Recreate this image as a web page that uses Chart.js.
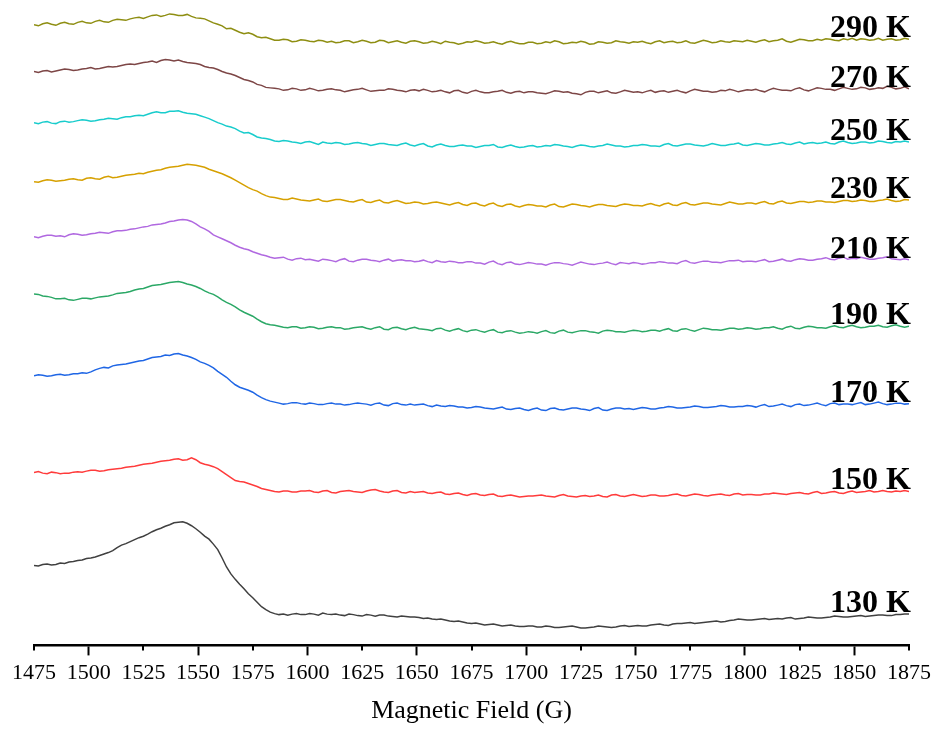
<!DOCTYPE html>
<html>
<head>
<meta charset="utf-8">
<title>EPR spectra</title>
<script src="https://cdn.jsdelivr.net/npm/chart.js@4.4.1/dist/chart.umd.min.js"></script>
<style>
  html, body { margin: 0; padding: 0; background: #fff; }
  #wrap { width: 937px; height: 740px; }
</style>
</head>
<body>
<div id="wrap"><canvas id="eprChart"></canvas></div>
<script>
// field sweep 1475-1875 G, one reading every 2 G
const fields = Array.from({ length: 201 }, (_, i) => 1475 + 2 * i);

const temps = ['130 K', '150 K', '170 K', '190 K', '210 K', '230 K', '250 K', '270 K', '290 K'];
const colors = ['#404040', '#ff3b3b', '#1f66e5', '#2ba866', '#b068e0', '#d6a000', '#18cccc', '#7d4646', '#8e8e12'];

// stacked intensity (a.u.), each trace already offset
const k130 = [80.5, 80, 81.5, 82, 81, 81.5, 83, 82.5, 84, 84.5, 85.5, 86, 87.5, 88, 89, 90.5, 92, 93.5, 95.5, 98.5,
  101, 102.5, 104.5, 106.5, 108.5, 110, 112, 114.5, 116.5, 118, 120, 121.5, 123.5, 124, 124.5, 123, 120.5, 117.5, 114, 110,
  107, 102, 96.5, 88, 79, 72, 66.5, 61.5, 57, 52, 48, 43.5, 39, 36, 33.5, 32, 31, 31.5, 30.5, 31.5,
  32, 31, 31, 32,
  31.5, 30.5, 32.5, 31.5, 31, 31.5, 30.5, 30, 31.5, 31, 30, 29.5, 31, 30.5, 29.5, 30.5, 30.5, 29.5, 29, 28.5, 29.5, 29, 28.5, 28.5,
  28, 27, 27.5, 26.5, 26, 26.5, 25.5, 24.5, 24, 24.5, 23.5, 22.5, 22, 22.5, 21.5, 20.5, 21, 21.5, 20.5, 19.5, 20, 20.5, 19.5, 19, 19, 19.5,
  19.5, 18.5, 18.5, 19.5, 19, 18, 18, 18.5, 19, 19.5, 18.5, 17.5, 17.5, 18, 18.5, 19.5, 19, 18.5, 18, 18.5, 19.5, 20, 19, 19.5,
  20, 19.5, 19.5, 20.5, 21, 21.5, 20.5, 20, 21.5, 22, 22, 22.5, 23, 22, 22.5, 23, 23.5, 24, 24.5, 23.5, 24, 25, 25.5, 26.5, 26, 25.5,
  25.5, 26, 26.5, 27, 26, 26.5, 27, 26.5, 27.5, 28, 26.5, 27, 27.5, 28.5, 28, 27.5, 27.5, 28, 28.5, 29.5, 29, 28.5, 28.5, 29,
  29.5, 30, 29, 29.5, 30, 30.5, 30.5, 30, 30, 31, 31, 31.5, 31.5];

const k150 = [174, 175, 173.5, 173, 174.5, 174, 173, 173.5, 173.5, 174.5, 175, 174.5, 175.5, 176.5, 176.5, 175.5, 176, 177, 177.5, 178,
  178.5, 179.5, 180, 180.5, 181.5, 182.5, 183, 183.5, 184.5, 185.5, 186, 186.5, 187.5, 188, 186.5, 187, 189, 187, 184, 182.5,
  181.5, 180, 178, 175, 172, 169, 166, 165, 164.5, 163, 161.5, 160, 158, 157, 156, 155, 154.5, 155.5, 155.5, 154.5,
  154.5, 155.5, 155.5, 156,
  154.5, 154, 155.5, 156, 154, 153.5, 155, 155.5, 156, 155, 154.5, 154, 155.5, 156.5, 157, 155.5, 154.5, 154, 155.5, 156, 154, 153.5, 155, 154,
  154.5, 155, 153.5, 153, 154, 154.5, 152.5, 152, 153, 153.5, 152, 151, 152.5, 153, 151.5, 151, 152, 152.5, 150.5, 150, 151, 151.5, 150.5, 149.5, 150, 150.5,
  150.5, 151, 151.5, 150.5, 150, 149.5, 151, 152, 150.5, 150, 149.5, 150.5, 151, 150, 150.5, 151.5, 150, 149.5, 151.5, 152, 150.5, 150, 151, 152,
  151, 150, 150.5, 151.5, 151.5, 150.5, 150.5, 151, 152, 152.5, 151, 150.5, 151.5, 152.5, 152, 151, 150.5, 151.5, 152, 152.5, 151.5, 151, 152.5, 153, 151.5, 152,
  152, 151.5, 151.5, 152.5, 152.5, 153.5, 153, 152.5, 152, 153, 153.5, 154, 153, 152.5, 154, 155, 153, 153.5, 154.5, 155, 153.5, 153, 154.5, 155.5,
  154, 154.5, 155, 156, 154.5, 155, 156, 155, 154.5, 155.5, 155, 156, 155];

const k170 = [271.5, 272.5, 272, 271, 271.5, 272.5, 273, 272, 272.5, 273.5, 273.5, 274.5, 274, 275.5, 277.5, 279, 280, 279.5, 281.5, 282.5,
  283, 283.5, 284.5, 285.5, 286.5, 287, 288.5, 290, 290.5, 291, 292.5, 292, 293.5, 294, 292.5, 291.5, 290, 288, 285.5, 284,
  282, 279.5, 276, 273, 270, 266, 262.5, 260, 258.5, 257, 255, 252, 249.5, 247.5, 246, 245, 244, 243, 243.5, 244.5,
  244.5, 243.5, 243, 244,
  243.5, 242.5, 242.5, 243.5, 244, 243, 243, 242, 242.5, 243.5, 244, 243.5, 243, 242, 243.5, 244, 242, 241.5, 243.5, 244, 242.5, 242, 243, 242,
  242.5, 243, 241.5, 240.5, 242, 241, 240.5, 241.5, 241, 240, 240, 239, 239.5, 240.5, 240, 239, 238.5, 238, 239, 240, 238, 237.5, 238.5, 239, 237.5, 236.5,
  238, 239, 237, 236.5, 238.5, 239, 237.5, 237, 238, 239, 239, 238, 237.5, 236.5, 238.5, 239.5, 237, 236.5, 238, 239, 239, 238, 238.5, 237.5,
  238.5, 239.5, 239, 238, 238, 239, 239.5, 240.5, 240, 239, 239, 239.5, 240, 241, 240.5, 239.5, 239.5, 240, 240.5, 241.5, 241, 240, 240, 240.5, 240.5, 241.5,
  241, 240, 241.5, 242.5, 240.5, 241, 242, 243, 241.5, 240.5, 242.5, 243, 241.5, 242, 243, 244, 242.5, 241.5, 243.5, 244, 242.5, 243, 243, 242.5,
  243.5, 244.5, 242.5, 243, 244, 245, 243.5, 242.5, 243, 244, 244, 243, 243.5];

const k190 = [354, 353.5, 352, 351.5, 350.5, 349, 349, 349.5, 348, 347.5, 348.5, 349.5, 349.5, 349, 350, 351, 351.5, 352, 353, 354.5,
  355, 355.5, 356.5, 358, 359, 359.5, 361, 362.5, 363, 363.5, 364.5, 365.5, 366, 366.5, 365.5, 364, 363, 361.5, 359.5, 357,
  355, 353.5, 351, 348, 345.5, 343.5, 341, 338, 335.5, 333.5, 331.5, 328.5, 326, 324, 323, 322.5, 321.5, 320.5, 320, 321,
  321, 319.5, 320, 321,
  320.5, 319, 319.5, 320.5, 321, 320, 320, 318.5, 319, 320, 320.5, 321, 319.5, 318.5, 320, 321, 318.5, 318, 320, 320.5, 319, 318, 319.5, 320.5,
  319, 318.5, 318, 317, 319, 319.5, 317.5, 316.5, 318, 319, 317, 316, 317.5, 318, 316.5, 315.5, 317, 318, 315.5, 315, 316.5, 317, 315.5, 314.5, 315, 316,
  315.5, 314.5, 316, 317, 315, 314.5, 316.5, 317.5, 315.5, 315, 316, 317, 317, 316, 315.5, 314.5, 316.5, 317.5, 317, 316, 316, 315.5, 316.5, 317.5,
  317, 316, 316.5, 317.5, 317.5, 316.5, 318, 319, 317, 316.5, 318.5, 319, 317.5, 316.5, 318, 319.5, 319, 318, 318, 317.5, 318.5, 319.5, 319.5, 318.5, 319, 320,
  319.5, 318.5, 319, 320, 320, 321, 319.5, 318.5, 320.5, 321.5, 319.5, 319, 320.5, 321.5, 321, 320, 320, 319.5, 321, 322, 320.5, 320, 321.5, 322.5,
  321, 320, 320.5, 321.5, 321.5, 322.5, 321, 320.5, 322, 323, 321.5, 320.5, 321.5];

const k210 = [411.5, 410.5, 412, 413, 413, 412, 412.5, 411.5, 413.5, 414.5, 414, 413, 413.5, 414.5, 415, 416, 415.5, 415, 416.5, 417.5,
  417.5, 418, 419, 419.5, 420.5, 421.5, 422, 423.5, 424, 424.5, 425.5, 427, 427.5, 428.5, 429, 428.5, 427, 424.5, 421.5, 419.5,
  417, 413.5, 411.5, 409.5, 407.5, 405.5, 403, 401, 399.5, 398.5, 396.5, 395, 393.5, 392.5, 391, 390, 390.5, 391, 389, 388,
  389.5, 390, 388.5, 389,
  388, 387, 389, 388.5, 387.5, 386.5, 388.5, 389.5, 387, 386.5, 388, 389, 389, 388, 387.5, 386.5, 388, 389, 387, 388, 388.5, 387.5, 387.5, 386.5,
  387, 388, 386.5, 385.5, 387.5, 386.5, 386, 387, 386.5, 385.5, 385.5, 386.5, 386.5, 385, 385, 384, 386, 387, 384.5, 383.5, 385.5, 386, 384, 383.5, 384.5, 385.5,
  385, 384, 384, 383, 384.5, 385.5, 385.5, 384.5, 384, 383, 384.5, 386, 385, 384, 383.5, 384.5, 385, 386, 384.5, 383.5, 385.5, 385, 384.5, 385.5,
  385, 384, 384.5, 385.5, 385.5, 386.5, 386, 385, 385, 384.5, 386.5, 387.5, 385.5, 385, 386, 387, 387, 386, 386, 385.5, 386.5, 387.5, 387.5, 388, 386.5, 387,
  387, 386.5, 387.5, 388.5, 386.5, 387, 388, 389, 387.5, 387, 388.5, 389.5, 389, 388, 388, 389, 389.5, 390.5, 389, 388.5, 390, 391, 389, 390,
  389.5, 391, 390, 389, 389, 390, 390.5, 391.5, 389.5, 389, 388.5, 389.5, 388.5];

const k230 = [467, 466.5, 468, 469, 468.5, 467.5, 468, 468.5, 469.5, 470, 469, 468.5, 470.5, 471, 470, 469.5, 471.5, 472.5, 471, 471.5,
  472.5, 473.5, 474, 474.5, 475.5, 475, 476.5, 477.5, 478.5, 479, 480.5, 481.5, 482, 482.5, 483.5, 484.5, 484, 483.5, 482.5, 481.5,
  479.5, 478, 476.5, 475, 473, 471, 468.5, 466, 463.5, 461, 459, 457.5, 455, 453, 451.5, 451, 450, 449, 449, 450.5,
  449.5, 448.5, 448, 447.5,
  448.5, 449.5, 447.5, 447, 448, 449, 449, 448, 447, 446.5, 448, 449, 446.5, 446, 447.5, 448.5, 446, 445.5, 447, 448, 446.5, 445, 445.5, 446.5,
  446, 444.5, 445, 446, 446.5, 445.5, 444.5, 443.5, 445, 446, 444, 443, 445, 445.5, 443.5, 442.5, 444.5, 445.5, 443, 442, 444, 444.5, 442.5, 441.5, 443, 444,
  443.5, 442.5, 442.5, 441.5, 443.5, 444.5, 442, 441.5, 443, 444.5, 444, 443, 442.5, 441.5, 443, 444, 444, 443, 442.5, 442, 443.5, 444.5, 444, 443,
  443, 442.5, 444, 445, 443.5, 442.5, 444.5, 445.5, 443.5, 443, 445, 446, 444, 443.5, 444.5, 445.5, 445.5, 444.5, 444, 443.5, 445, 446.5, 445.5, 444.5, 444.5, 445.5,
  445.5, 444.5, 446, 447, 445, 444.5, 446.5, 447.5, 445.5, 445, 446, 447, 447, 446, 446.5, 447.5, 447.5, 446.5, 446.5, 446, 447, 448, 448, 447,
  447.5, 448.5, 448, 447, 447, 448, 448.5, 449.5, 448, 447, 447.5, 449, 448.5];

const k250 = [526.5, 525.5, 527, 527.5, 526, 525.5, 527.5, 528, 527, 527.5, 528.5, 529.5, 529, 528, 528.5, 529.5, 530, 531, 530.5, 530,
  531.5, 532.5, 532.5, 533.5, 534, 533.5, 535, 536.5, 537.5, 536.5, 536.5, 538, 538, 538.5, 537, 536, 535.5, 535, 533.5, 532,
  530.5, 528.5, 526.5, 525, 523, 522, 520.5, 518, 516, 516.5, 514.5, 512, 511, 510.5, 509.5, 508, 507.5, 508.5, 508, 507,
  506.5, 505.5, 507, 507.5,
  506, 504.5, 507, 506, 505.5, 506.5, 506, 504.5, 505, 506, 506.5, 505.5, 505, 503.5, 504.5, 505.5, 505.5, 504.5, 504, 503.5, 505, 506, 504, 503,
  504.5, 505.5, 503, 502, 504, 505, 503.5, 502.5, 502.5, 503.5, 504, 503, 503, 501.5, 502.5, 503.5, 503.5, 504.5, 502, 501.5, 503, 504, 502.5, 501.5, 502, 503,
  503.5, 502, 502.5, 503.5, 503, 504.5, 504, 503, 502.5, 501.5, 503, 504, 503.5, 502.5, 502, 503, 503.5, 505, 504, 503, 503, 502, 502.5, 503.5,
  503.5, 504.5, 504, 503, 503, 502.5, 504.5, 505.5, 503.5, 503, 504, 505, 505, 504, 503.5, 503, 504, 505.5, 504.5, 503.5, 503.5, 504.5, 505, 506, 504, 503.5,
  504.5, 505.5, 505, 504, 504, 505, 505.5, 506.5, 505, 504.5, 506, 507, 505, 506, 506.5, 505.5, 506, 507, 505.5, 505, 507, 508, 506.5, 505.5,
  506, 507, 507, 506, 506.5, 508, 507.5, 506.5, 506, 507.5, 507, 508, 507];

const k270 = [578, 577, 578.5, 579, 577.5, 578.5, 579.5, 580.5, 580, 579, 579.5, 580.5, 581, 582, 580.5, 581, 582, 583, 582.5, 583,
  584, 585, 585.5, 585, 586, 587, 587.5, 588.5, 587, 589, 590, 589.5, 588.5, 589.5, 588, 587, 586.5, 586, 585, 583,
  582, 581.5, 580, 578, 576.5, 575.5, 574, 572, 570, 569, 567.5, 565, 564, 562, 561.5, 561, 560.5, 559, 559.5, 561,
  560.5, 559, 559.5, 561,
  560, 558.5, 559, 560, 560.5, 559.5, 559, 557.5, 558.5, 559.5, 560, 561, 559.5, 558, 558.5, 559, 559, 560.5, 560, 559, 558.5, 557.5, 559, 559.5,
  558.5, 560, 559, 557.5, 558, 559, 557.5, 556.5, 558.5, 559, 557, 556, 558, 559, 557.5, 556.5, 556.5, 557.5, 558, 559, 557, 556, 557.5, 558, 556.5, 557.5,
  557.5, 556.5, 556, 555.5, 557, 558.5, 558, 557, 557.5, 556, 555.5, 554.5, 557, 558, 558, 556.5, 557.5, 558.5, 556.5, 556, 557.5, 559, 558, 557,
  557.5, 556.5, 558, 559, 557, 558, 558.5, 557, 558, 559, 557.5, 556.5, 558.5, 560, 559, 558, 558, 557, 557.5, 559, 558.5, 560, 559, 557.5, 558.5, 559.5,
  559, 560, 558.5, 557.5, 559.5, 561, 560, 559, 559, 558.5, 560.5, 561.5, 559.5, 558.5, 560, 561.5, 561, 560, 560, 559, 560.5, 562, 561, 560,
  560.5, 562, 561.5, 560, 560.5, 561.5, 561, 563, 562, 560.5, 561, 562.5, 560.5];

const k290 = [625, 624, 626, 627, 625.5, 624.5, 626.5, 627.5, 626, 625.5, 627.5, 628.5, 627, 626.5, 628.5, 629.5, 628, 627.5, 629.5, 630.5,
  630, 629.5, 631, 632, 632.5, 631.5, 633, 634.5, 635, 633.5, 634.5, 636, 635.5, 634.5, 634.5, 635.5, 633.5, 632, 631.5, 631,
  629, 627, 625.5, 624, 621, 621.5, 619.5, 617.5, 616, 617, 615.5, 613, 612, 612.5, 611, 609.5, 609.5, 610.5, 610, 608,
  608.5, 610, 609.5, 608.5,
  608, 609.5, 609, 607.5, 608.5, 607, 607.5, 609, 609, 607, 608, 609.5, 608.5, 607, 607.5, 609.5, 609, 607, 608, 609, 607.5, 606.5, 608.5, 609,
  608, 606.5, 607, 608.5, 607.5, 606, 608.5, 607.5, 607, 605.5, 606.5, 608, 607.5, 609, 608, 606.5, 607, 608, 606.5, 605.5, 607.5, 608.5, 607, 606, 606, 607.5,
  607.5, 606, 606.5, 608, 607, 609, 608, 606, 606.5, 607.5, 607, 608.5, 607.5, 605.5, 606, 608, 607.5, 606.5, 607, 609, 608, 607.5, 606.5, 608,
  607.5, 608.5, 607, 606, 608, 609, 607, 608, 608.5, 607, 607.5, 609, 607, 606.5, 608, 609.5, 608.5, 607, 607.5, 609, 608, 607.5, 609, 608.5, 608, 609.5,
  608.5, 607.5, 609, 610, 608, 609, 609.5, 611, 608.5, 607.5, 609, 610.5, 610, 609, 609, 610.5, 609.5, 611, 610.5, 609.5, 609, 611, 610, 611.5,
  609.5, 611, 610.5, 609.5, 610, 611.5, 609.5, 610.5, 611, 609.5, 610, 611.5, 610.5];

const spectra = [k130, k150, k170, k190, k210, k230, k250, k270, k290];

const serif = '"Liberation Serif", "Times New Roman", serif';

// temperature tag sitting on the right end of each trace
const traceLabels = {
  id: 'traceLabels',
  afterDatasetsDraw(chart) {
    const { ctx, scales: { x, y } } = chart;
    ctx.save();
    ctx.font = 'bold 32px ' + serif;
    ctx.fillStyle = '#000';
    ctx.textAlign = 'right';
    ctx.textBaseline = 'alphabetic';
    chart.data.datasets.forEach(ds => {
      const last = ds.data[ds.data.length - 1];
      ctx.fillText(ds.label, x.getPixelForValue(1875) + 2, y.getPixelForValue(last.y) - 2);
    });
    ctx.restore();
  }
};

// short ticks between the labelled 50 G ticks
const minorTicks = {
  id: 'minorTicks',
  afterDraw(chart) {
    const { ctx, chartArea, scales: { x } } = chart;
    ctx.save();
    ctx.strokeStyle = '#000';
    ctx.lineWidth = 2;
    x.ticks.forEach(t => {
      if (t.value % 50 !== 0) {
        const px = Math.round(x.getPixelForValue(t.value));
        ctx.beginPath();
        ctx.moveTo(px, chartArea.bottom);
        ctx.lineTo(px, chartArea.bottom + 5);
        ctx.stroke();
      }
    });
    ctx.restore();
  }
};

const ctx = document.getElementById('eprChart');
new Chart(ctx, {
  type: 'line',
  data: {
    datasets: spectra.map((vals, i) => ({
      label: temps[i],
      data: vals.map((v, j) => ({ x: fields[j], y: v })),
      borderColor: colors[i],
      borderWidth: 1.5,
      pointRadius: 0,
      tension: 0,
      fill: false
    }))
  },
  options: {
    responsive: true,
    maintainAspectRatio: false,
    animation: false,
    layout: { padding: { left: 34, right: 28, top: 0, bottom: 9 } },
    plugins: {
      legend: { display: false },
      tooltip: { enabled: false }
    },
    scales: {
      x: {
        type: 'linear',
        min: 1475,
        max: 1875,
        border: { display: true, color: '#000', width: 2.5 },
        grid: {
          drawOnChartArea: false,
          drawTicks: true,
          tickLength: 10,
          tickWidth: 2,
          tickColor: c => (c.tick && c.tick.value % 50 === 0) ? '#000' : 'rgba(0,0,0,0)'
        },
        ticks: {
          stepSize: 25,
          autoSkip: false,
          maxRotation: 0,
          padding: 5,
          color: '#000',
          font: { family: serif, size: 22 },
          callback: v => String(v)
        },
        title: {
          display: true,
          text: 'Magnetic Field (G)',
          color: '#000',
          font: { family: serif, size: 26 },
          padding: { top: 4, bottom: 4 }
        }
      },
      y: {
        display: false,
        min: 0,
        max: 650
      }
    }
  },
  plugins: [traceLabels, minorTicks]
});
</script>
</body>
</html>
